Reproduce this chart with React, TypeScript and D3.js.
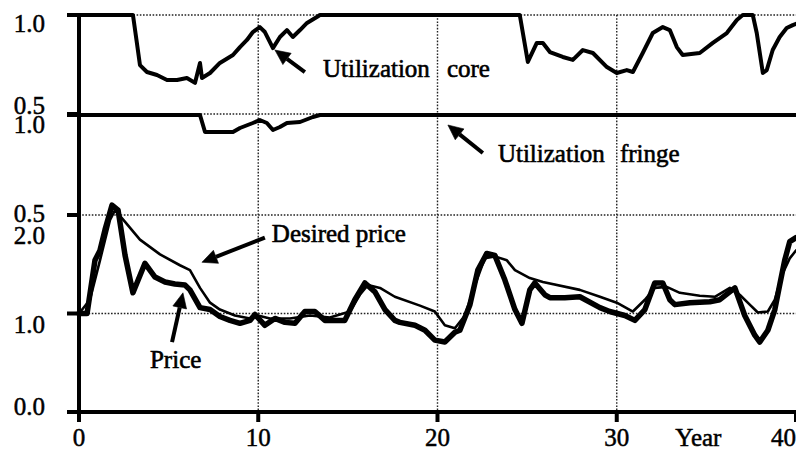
import * as d3 from "d3";
import React from "react";

const WIDTH = 796;
const HEIGHT = 451;
const FONT = "'Liberation Serif', 'Times New Roman', serif";

// [year, value]
const coreUtil: [number, number][] = [
    [0, 1], [3.01, 1], [3.23, 0.859], [3.4, 0.747], [3.79, 0.712], [4.35, 0.697],
    [4.91, 0.672], [5.47, 0.672], [6.02, 0.682], [6.47, 0.657], [6.75, 0.758],
    [6.86, 0.682], [7.31, 0.707], [7.86, 0.758], [8.59, 0.798], [8.98, 0.838],
    [9.37, 0.874], [9.7, 0.914], [10.09, 0.939], [10.37, 0.914], [10.82, 0.833],
    [11.21, 0.889], [11.6, 0.924], [11.93, 0.889], [12.33, 0.924], [12.72, 0.96],
    [13.27, 0.99], [13.44, 1], [24.59, 1], [25.04, 0.763], [25.54, 0.859],
    [25.88, 0.859], [26.27, 0.813], [26.99, 0.788], [27.55, 0.773], [28.11, 0.823],
    [28.67, 0.808], [29.45, 0.737], [30.0, 0.707], [30.56, 0.722], [30.9, 0.712],
    [31.45, 0.808], [32.01, 0.909], [32.57, 0.939], [32.96, 0.924], [33.35, 0.838],
    [33.68, 0.798], [34.63, 0.808], [35.36, 0.859], [36.14, 0.909], [36.7, 0.975],
    [37.03, 1], [37.59, 1], [37.81, 0.909], [38.15, 0.707], [38.37, 0.722],
    [38.7, 0.823], [39.09, 0.889], [39.48, 0.934], [39.82, 0.949], [40, 0.955],
];

const fringeUtil: [number, number][] = [
    [0, 1], [6.75, 1], [7.03, 0.915], [8.59, 0.915], [8.98, 0.935], [9.7, 0.96],
    [10.09, 0.975], [10.48, 0.96], [10.82, 0.925], [11.21, 0.94], [11.6, 0.96],
    [12.33, 0.965], [13.05, 0.99], [13.44, 1], [40, 1],
];

const price: [number, number][] = [
    [0, 1], [0.45, 1], [0.89, 1.54], [1.17, 1.64], [1.45, 1.85], [1.84, 2.1],
    [2.18, 2.05], [2.57, 1.59], [3.01, 1.21], [3.68, 1.51], [4.24, 1.37],
    [4.8, 1.32], [5.35, 1.3], [5.91, 1.29], [6.19, 1.24], [6.75, 1.06],
    [7.31, 1.04], [7.86, 0.97], [8.42, 0.93], [8.98, 0.9], [9.54, 0.93],
    [9.82, 0.99], [10.37, 0.88], [10.93, 0.95], [11.49, 0.91], [12.05, 0.9],
    [12.6, 1.02], [13.16, 1.02], [13.72, 0.93], [14.28, 0.93], [14.83, 0.93],
    [15.39, 1.14], [15.95, 1.31], [16.51, 1.22], [17.07, 1.04], [17.62, 0.93],
    [17.9, 0.91], [18.74, 0.88], [19.3, 0.83], [19.85, 0.73], [20.41, 0.71],
    [20.97, 0.81], [21.25, 0.83], [21.81, 1.09], [22.25, 1.44], [22.75, 1.61],
    [23.2, 1.59], [23.76, 1.34], [24.32, 1.04], [24.71, 0.9], [25.15, 1.24],
    [25.43, 1.31], [25.99, 1.19], [26.27, 1.16], [27.1, 1.16], [27.94, 1.17],
    [29.06, 1.06], [29.61, 1.02], [30.45, 0.98], [31.01, 0.93], [31.57, 1.04],
    [32.12, 1.31], [32.57, 1.31], [32.96, 1.14], [33.24, 1.09], [34.08, 1.11],
    [35.19, 1.12], [35.75, 1.14], [36.59, 1.26], [37.14, 0.98], [37.7, 0.78],
    [37.98, 0.71], [38.43, 0.83], [38.82, 1.04], [39.09, 1.29], [39.37, 1.54],
    [39.65, 1.73], [40, 1.77],
];

const desiredPrice: [number, number][] = [
    [0, 1], [0.61, 1.14], [1.17, 1.54], [1.73, 1.95], [2.01, 2.05], [2.57, 1.93],
    [3.4, 1.75], [4.52, 1.6], [5.63, 1.49], [6.19, 1.44], [6.75, 1.26],
    [7.31, 1.11], [7.86, 1.04], [8.7, 0.98], [9.54, 0.95], [9.98, 0.98],
    [10.65, 0.95], [11.77, 0.95], [12.88, 0.98], [14.0, 0.96], [15.11, 1.02],
    [15.67, 1.19], [16.12, 1.29], [16.79, 1.26], [17.62, 1.17], [19.02, 1.08],
    [19.85, 1.02], [20.41, 0.88], [20.97, 0.85], [21.53, 0.98], [22.09, 1.29],
    [22.64, 1.56], [23.2, 1.58], [23.87, 1.54], [24.32, 1.44], [25.15, 1.36],
    [25.88, 1.32], [27.94, 1.24], [29.06, 1.17], [30.0, 1.11], [30.9, 1.02],
    [31.57, 1.14], [32.12, 1.26], [32.79, 1.27], [33.52, 1.21], [34.63, 1.18],
    [35.47, 1.17], [36.31, 1.26], [36.86, 1.19], [37.42, 1.09], [37.87, 1.01],
    [38.43, 1.02], [38.82, 1.14], [39.21, 1.39], [39.65, 1.56], [40, 1.64],
];

const xTicks = [0, 10, 20, 30, 40];
const coreTicks = ["1.0", "0.5"];
const fringeTicks = ["1.0", "0.5"];
const priceTicks = ["2.0", "1.0", "0.0"];

const x = d3.scaleLinear().domain([0, 40]).range([79, 796]);
const yCore = d3.scaleLinear().domain([0.5, 1]).range([114, 15]);
const yFringe = d3.scaleLinear().domain([0.5, 1]).range([215, 115]);
const yPrice = d3.scaleLinear().domain([0, 2]).range([412, 215]);

// label baseline offsets from the tick (labels sit inside their panel)
const labelDy: Record<string, number[]> = {
    core: [17, 0],
    fringe: [18, 7],
    price: [29, 19, 3],
};

// annotations in data units: text at (tx, ty), arrow tail -> head
const notes = [
    { text: ["Utilization", "core"], gap: 124, scale: yCore, tx: 13.61, ty: 0.687, from: [12.6, 0.712], to: [10.93, 0.823] },
    { text: ["Utilization", "fringe"], gap: 122, scale: yFringe, tx: 23.37, ty: 0.765, from: [22.53, 0.81], to: [20.58, 0.95] },
    { text: ["Desired price"], gap: 0, scale: yPrice, tx: 10.76, ty: 1.73, from: [10.37, 1.77], to: [6.86, 1.52] },
    { text: ["Price"], gap: 0, scale: yPrice, tx: 3.96, ty: 0.45, from: [5.19, 0.71], to: [5.8, 1.21] },
];

const Arrow: React.FC<{ x1: number; y1: number; x2: number; y2: number }> = ({ x1, y1, x2, y2 }) => {
    const ang = Math.atan2(y2 - y1, x2 - x1);
    const len = 15;
    const half = 7;
    const bx = x2 - len * Math.cos(ang);
    const by = y2 - len * Math.sin(ang);
    const px = -Math.sin(ang) * half;
    const py = Math.cos(ang) * half;
    return (
        <g>
            <line x1={x1} y1={y1} x2={bx} y2={by} stroke="#000" strokeWidth={4} />
            <path d={`M${x2},${y2}L${bx + px},${by + py}L${bx - px},${by - py}Z`} fill="#000" />
        </g>
    );
};

const App: React.FC = () => {
    const line = (ys: d3.ScaleLinear<number, number>) =>
        d3.line<[number, number]>().x((d) => x(d[0])).y((d) => ys(d[1]));

    const gridY = [yCore(1), yCore(0.5), yFringe(0.5), yPrice(1)];
    const x0 = x(0);
    const yBottom = yPrice(0);

    const tickRows = [
        { key: "core", labels: coreTicks, scale: yCore },
        { key: "fringe", labels: fringeTicks, scale: yFringe },
        { key: "price", labels: priceTicks, scale: yPrice },
    ];

    return (
        <svg
            width={WIDTH}
            height={HEIGHT}
            style={{ position: "absolute", left: 0, top: 0, background: "#fff" }}
            fontFamily={FONT}
        >
            <rect width={WIDTH} height={HEIGHT} fill="#fff" />
            {/* dotted grid */}
            <g stroke="#222" strokeWidth={1.4} strokeDasharray="1.6 1.6">
                {gridY.map((gy, i) => (
                    <line key={"h" + i} x1={x0} x2={WIDTH} y1={gy} y2={gy} />
                ))}
                {xTicks.slice(1, 4).map((t) => (
                    <line key={"v" + t} x1={x(t)} x2={x(t)} y1={yCore(1)} y2={yBottom} />
                ))}
            </g>

            {/* data */}
            <g fill="none" stroke="#000" strokeLinejoin="round" strokeLinecap="round">
                <path d={line(yCore)(coreUtil) || ""} strokeWidth={4} />
                <path d={line(yFringe)(fringeUtil) || ""} strokeWidth={4} />
                <path d={line(yPrice)(price) || ""} strokeWidth={5.5} />
                <path d={line(yPrice)(desiredPrice) || ""} strokeWidth={2.6} />
            </g>

            {/* axes */}
            <g stroke="#000" strokeWidth={4}>
                <line x1={x0} x2={x0} y1={yCore(1) - 2} y2={yBottom + 10} />
                <line x1={x0 - 12} x2={WIDTH} y1={yBottom} y2={yBottom} />
                {tickRows.map((r) =>
                    r.labels.map((l) => (
                        <line key={r.key + l} x1={x0 - 12} x2={x0} y1={r.scale(+l)} y2={r.scale(+l)} />
                    ))
                )}
                {xTicks.map((t) => (
                    <line key={"xt" + t} x1={x(t)} x2={x(t)} y1={yBottom} y2={yBottom + 10} />
                ))}
            </g>

            {/* tick labels */}
            <g fontSize={25} fill="#000" stroke="#000" strokeWidth={0.5}>
                {tickRows.map((r) =>
                    r.labels.map((l, i) => (
                        <text key={"l" + r.key + l} x={45} y={r.scale(+l) + labelDy[r.key][i]} textAnchor="end">
                            {l}
                        </text>
                    ))
                )}
                {xTicks.map((t) => (
                    <text
                        key={"xl" + t}
                        x={t === 40 ? WIDTH : x(t)}
                        y={446}
                        textAnchor={t === 40 ? "end" : "middle"}
                    >
                        {t}
                    </text>
                ))}
                <text x={x(33.27)} y={446}>Year</text>
            </g>

            {/* annotations */}
            <g fontSize={25} fill="#000" stroke="#000" strokeWidth={0.6}>
                {notes.map((n, i) => (
                    <g key={"n" + i}>
                        <text x={x(n.tx)} y={n.scale(n.ty)}>{n.text[0]}</text>
                        {n.text[1] && (
                            <text x={x(n.tx) + n.gap} y={n.scale(n.ty)}>{n.text[1]}</text>
                        )}
                        <Arrow
                            x1={x(n.from[0])}
                            y1={n.scale(n.from[1])}
                            x2={x(n.to[0])}
                            y2={n.scale(n.to[1])}
                        />
                    </g>
                ))}
            </g>
        </svg>
    );
};

export default App;
